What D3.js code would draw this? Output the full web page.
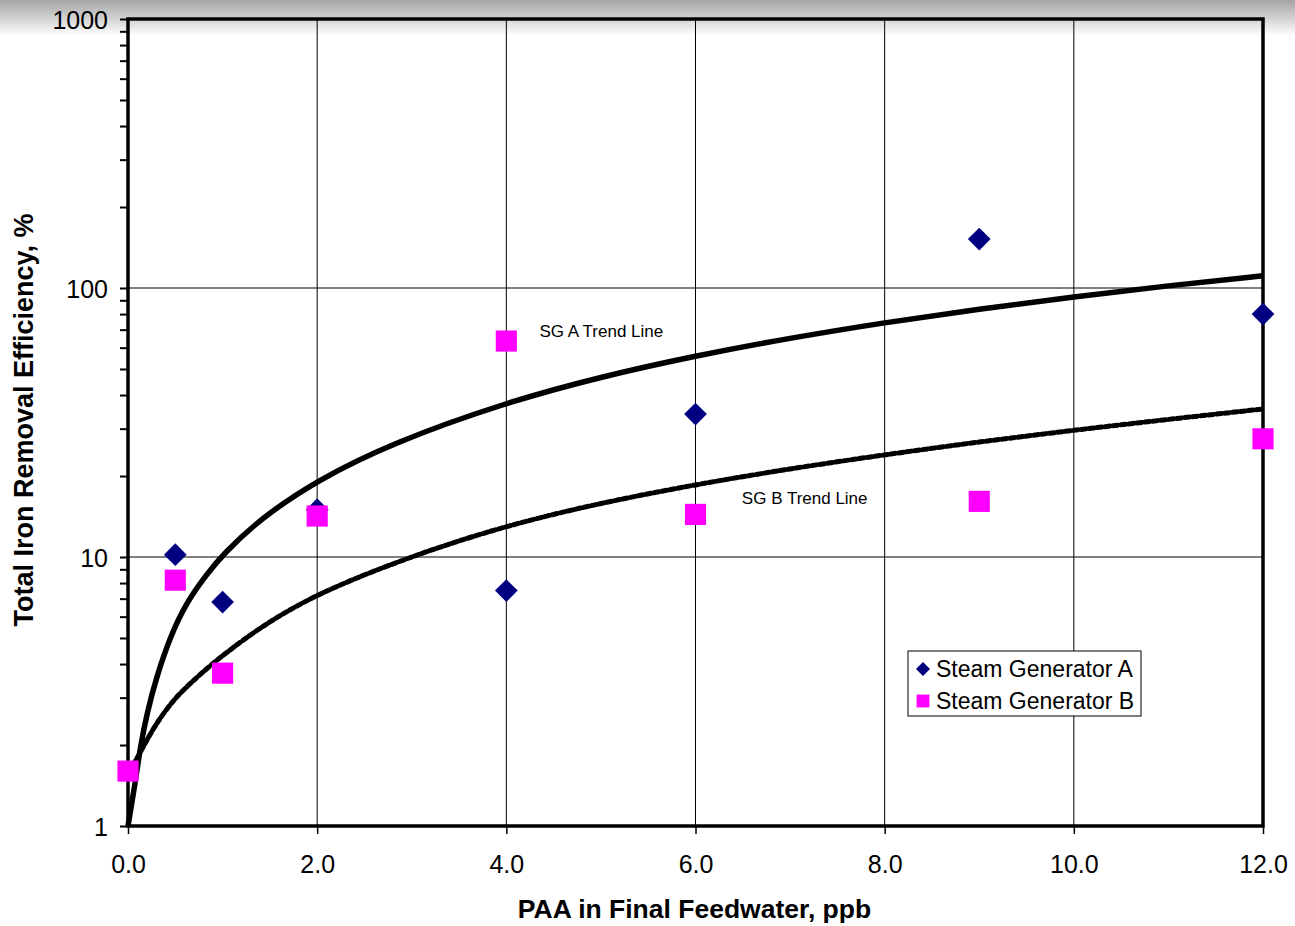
<!DOCTYPE html>
<html>
<head>
<meta charset="utf-8">
<script src="https://cdn.jsdelivr.net/npm/d3@7"></script>
<style>
  body { margin: 0; background: #fff; }
  svg text { font-family: "Liberation Sans", Arial, sans-serif; fill: #000; }
</style>
</head>
<body>
<div id="chart"></div>
<script>
// measured points
const paaA = [0.5, 1, 2, 4, 6, 9, 12];
const sgA = [10.2, 6.8, 15, 7.5, 34, 152, 80];
const paaB = [0, 0.5, 1, 2, 4, 6, 9, 12];
const sgB = [1.6, 8.2, 3.7, 14.2, 63.5, 14.4, 16.1, 27.5];

// trend lines
const trendAx = [0, 0.07, 0.13, 0.2, 0.3, 0.45, 0.62, 0.83, 1, 1.4, 2, 2.8, 4, 5, 6, 7, 8, 9, 10, 11, 12];
const trendAy = [1.0, 1.4, 1.97, 2.62, 3.57, 5.1, 6.8, 8.6, 10.2, 13.9, 19.3, 26.6, 37.6, 46.8, 56, 65.2, 74.4, 83.6, 92.8, 102, 111];
const trendBx = [0, 0.06, 0.25, 0.45, 0.62, 0.87, 1, 1.4, 2, 3, 4, 5, 6, 7, 8, 9, 10, 11, 12];
const trendBy = [1.6, 1.68, 2.27, 2.86, 3.3, 3.95, 4.3, 5.5, 7.33, 10.1, 13.1, 15.9, 18.6, 21.3, 24.0, 26.8, 29.6, 32.5, 35.5];

const xTicks = [0, 2, 4, 6, 8, 10, 12];
const yTicks = [1, 10, 100, 1000];

const W = 1295, H = 926;
const margin = { top: 19, right: 32, bottom: 100, left: 128 },
    width = W - margin.left - margin.right,
    height = H - margin.top - margin.bottom;

const svg = d3.select("#chart")
    .append("svg")
    .attr("width", W)
    .attr("height", H);

// grey fade along the top edge
const grad = svg.append("defs").append("linearGradient")
    .attr("id", "topfade")
    .attr("x1", 0).attr("y1", 0).attr("x2", 0).attr("y2", 1);
grad.append("stop").attr("offset", "0%").attr("stop-color", "#a4a4a4");
grad.append("stop").attr("offset", "100%").attr("stop-color", "#ffffff");
svg.append("rect")
    .attr("x", 0).attr("y", 0)
    .attr("width", W).attr("height", 36)
    .attr("fill", "url(#topfade)");

const g = svg.append("g")
    .attr("transform", `translate(${margin.left}, ${margin.top})`);

const x = d3.scaleLinear().domain([0, 12]).range([0, width]);
const y = d3.scaleLog().domain([1, 1000]).range([height, 0]);

// gridlines
g.append("g")
    .selectAll("line")
    .data(xTicks.slice(1, -1))
    .join("line")
    .attr("x1", d => x(d)).attr("x2", d => x(d))
    .attr("y1", 0).attr("y2", height)
    .attr("stroke", "#000").attr("stroke-width", 1);
g.append("g")
    .selectAll("line")
    .data(yTicks.slice(1, -1))
    .join("line")
    .attr("x1", 0).attr("x2", width)
    .attr("y1", d => y(d)).attr("y2", d => y(d))
    .attr("stroke", "#000").attr("stroke-width", 1);

// y axis, with minor ticks on every decade
const yAxis = g.append("g")
    .call(d3.axisLeft(y)
        .tickValues(y.ticks())
        .tickSize(8)
        .tickFormat(d => yTicks.includes(d) ? d : ""));
yAxis.select(".domain").remove();
yAxis.selectAll("line").attr("stroke", "#000").attr("stroke-width", 2);
yAxis.selectAll("text")
    .attr("font-size", 25)
    .attr("x", -20)
    .attr("dy", "0.36em")
    .style("font-family", "'Liberation Sans', Arial, sans-serif");

// x axis
const xAxis = g.append("g")
    .attr("transform", `translate(0, ${height})`)
    .call(d3.axisBottom(x)
        .tickValues(xTicks)
        .tickSize(8)
        .tickFormat(d3.format(".1f")));
xAxis.select(".domain").remove();
xAxis.selectAll("line").attr("stroke", "#000").attr("stroke-width", 1.5);
xAxis.selectAll("text")
    .attr("font-size", 25)
    .attr("y", 29)
    .style("font-family", "'Liberation Sans', Arial, sans-serif");

// plot frame
g.append("rect")
    .attr("x", 0).attr("y", 0)
    .attr("width", width).attr("height", height)
    .attr("fill", "none")
    .attr("stroke", "#000")
    .attr("stroke-width", 3.5);

// trend lines
const line = d3.line()
    .x(d => x(d[0]))
    .y(d => y(d[1]))
    .curve(d3.curveBasis);

g.append("path")
    .datum(d3.zip(trendAx, trendAy))
    .attr("d", line)
    .attr("fill", "none")
    .attr("stroke", "#000")
    .attr("stroke-width", 5.5);

g.append("path")
    .datum(d3.zip(trendBx, trendBy))
    .attr("d", line)
    .attr("fill", "none")
    .attr("stroke", "#000")
    .attr("stroke-width", 5)
    .attr("stroke-linecap", "round")
    .attr("stroke-dasharray", "5 3");

g.append("text")
    .attr("x", x(4.35)).attr("y", y(65.7))
    .attr("font-size", 17)
    .text("SG A Trend Line");
g.append("text")
    .attr("x", x(6.49)).attr("y", y(15.7))
    .attr("font-size", 17)
    .text("SG B Trend Line");

// markers
const diamond = d3.symbol().type(d3.symbolDiamond2);
const square = d3.symbol().type(d3.symbolSquare2);

g.append("g")
    .selectAll("path")
    .data(d3.zip(paaA, sgA))
    .join("path")
    .attr("transform", d => `translate(${x(d[0])}, ${y(d[1])})`)
    .attr("d", diamond.size(330))
    .attr("fill", "#000080");

g.append("g")
    .selectAll("path")
    .data(d3.zip(paaB, sgB))
    .join("path")
    .attr("transform", d => `translate(${x(d[0])}, ${y(d[1])})`)
    .attr("d", square.size(570))
    .attr("fill", "#ff00ff");

// legend
const lg = svg.append("g").attr("transform", "translate(908, 651)");
lg.append("rect")
    .attr("width", 233).attr("height", 65)
    .attr("fill", "#fff")
    .attr("stroke", "#000").attr("stroke-width", 1);
lg.append("path")
    .attr("transform", "translate(15, 18)")
    .attr("d", diamond.size(125))
    .attr("fill", "#000080");
lg.append("path")
    .attr("transform", "translate(15, 50)")
    .attr("d", square.size(210))
    .attr("fill", "#ff00ff");
lg.append("text")
    .attr("x", 28).attr("y", 26)
    .attr("font-size", 23)
    .text("Steam Generator A");
lg.append("text")
    .attr("x", 28).attr("y", 58)
    .attr("font-size", 23)
    .text("Steam Generator B");

// axis titles
svg.append("text")
    .attr("text-anchor", "middle")
    .attr("x", margin.left + width / 2 - 1)
    .attr("y", 918)
    .attr("font-size", 26.5)
    .attr("font-weight", "bold")
    .text("PAA in Final Feedwater, ppb");

svg.append("text")
    .attr("text-anchor", "middle")
    .attr("transform", "rotate(-90)")
    .attr("x", -420)
    .attr("y", 33)
    .attr("font-size", 27)
    .attr("font-weight", "bold")
    .text("Total Iron Removal Efficiency, %");
</script>
</body>
</html>
